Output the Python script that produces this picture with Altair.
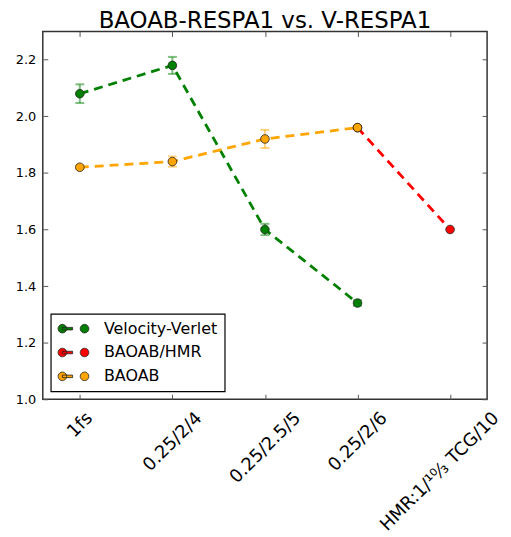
import math
import altair as alt
import pandas as pd

# ---------------- data ----------------
settings = ["1fs", "0.25/2/4", "0.25/2.5/5", "0.25/2/6", "HMR:1/¹⁰⁄₃ TCG/10"]
series_names = ["Velocity-Verlet", "BAOAB/HMR", "BAOAB"]
series_colors = ["green", "red", "orange"]

vv_x = settings[:4]
vv_y = [2.08, 2.18, 1.60, 1.34]
vv_err = [0.033, 0.03, 0.02, 0.01]

hmr_x = settings[3:5]
hmr_y = [1.96, 1.60]
hmr_err = [0.0, 0.0]

baoab_x = settings[:4]
baoab_y = [1.82, 1.84, 1.92, 1.96]
baoab_err = [0.006, 0.018, 0.032, 0.006]

y_ticks = [1.0, 1.2, 1.4, 1.6, 1.8, 2.0, 2.2]

rows = []
for name, xs, ys, es in [
    ("Velocity-Verlet", vv_x, vv_y, vv_err),
    ("BAOAB/HMR", hmr_x, hmr_y, hmr_err),
    ("BAOAB", baoab_x, baoab_y, baoab_err),
]:
    for s, v, e in zip(xs, ys, es):
        rows.append({"series": name, "setting": s, "idx": settings.index(s),
                     "value": v, "lo": v - e, "hi": v + e, "err": e})
df = pd.DataFrame(rows)
df_err = df[df["err"] > 0]

# ---------------- style ----------------
FONT = "DejaVu Sans"
# horizontal shift of each rotated tick label so that it is centred on its tick
label_shift = [9.6, 26.6, 32.7, 26.6, 46]


def poly_circle(cx, r, n=20):
    pts = []
    for i in range(n):
        a = 2 * math.pi * i / n
        pts.append(f"{cx + r * math.cos(a):.3f},{r * math.sin(a):.3f}")
    return "M" + " L".join(pts) + " Z"


legend_path = " ".join([
    poly_circle(-0.41, 0.54),
    poly_circle(2.375, 0.54),
    "M-0.41,-0.16 L0.875,-0.16 L0.875,0.16 L-0.41,0.16 Z",
])

x_scale = alt.Scale(domain=settings, type="point", padding=0.4)
y_scale = alt.Scale(domain=[1.0, 2.3], nice=False, zero=False)
# same colour mapping on three channels; the domains are listed in different
# orders so that Vega-Lite does not fold the hidden legends into the shown one
col_scale = alt.Scale(domain=series_names, range=series_colors)
stroke_scale = alt.Scale(domain=series_names[::-1], range=series_colors[::-1])
fill_order = [1, 0, 2]
fill_scale = alt.Scale(domain=[series_names[i] for i in fill_order],
                       range=[series_colors[i] for i in fill_order])

x_none = alt.X("setting:N", scale=x_scale, sort=settings, axis=None)
y_none = alt.Y("value:Q", scale=y_scale, axis=None)

rule = alt.Chart(df_err).mark_rule(strokeWidth=2, opacity=0.5).encode(
    x=x_none,
    y=alt.Y("lo:Q", scale=y_scale, axis=None),
    y2="hi:Q",
    stroke=alt.Stroke("series:N", scale=stroke_scale, legend=None),
)
cap_lo = alt.Chart(df_err).mark_tick(thickness=2, size=9, opacity=0.5).encode(
    x=x_none,
    y=alt.Y("lo:Q", scale=y_scale, axis=None),
    fill=alt.Fill("series:N", scale=fill_scale, legend=None),
)
cap_hi = alt.Chart(df_err).mark_tick(thickness=2, size=9, opacity=0.5).encode(
    x=x_none,
    y=alt.Y("hi:Q", scale=y_scale, axis=None),
    fill=alt.Fill("series:N", scale=fill_scale, legend=None),
)

line = alt.Chart(df).mark_line(strokeDash=[9, 6], strokeWidth=2.8).encode(
    x=x_none,
    y=y_none,
    stroke=alt.Stroke("series:N", scale=stroke_scale, legend=None),
    order=alt.Order("idx:Q"),
)

points = alt.Chart(df).mark_point(
    filled=True, size=75, stroke="#222", strokeWidth=0.8, opacity=1
).encode(
    x=x_none,
    y=alt.Y("value:Q", scale=y_scale, axis=alt.Axis(
        orient="left", title=None, values=y_ticks, format=".1f",
        labelFontSize=13, labelFont=FONT, labelColor="black",
        labelPadding=7, tickSize=5, offset=-5, domain=False,
        tickColor="#555", grid=False)),
    color=alt.Color("series:N", scale=col_scale, legend=alt.Legend(
        title=None, orient="bottom-left", offset=8,
        symbolType=legend_path, symbolSize=256,
        symbolStrokeColor="#222", symbolStrokeWidth=0.8,
        labelFontSize=16, labelFont=FONT, labelColor="black",
        labelOffset=30, rowPadding=7, padding=6.5,
        strokeColor="black", fillColor="white")),
)

# one bottom axis per category so each rotated label gets its own shift
label_layers = []
for s, sh in zip(settings, label_shift):
    label_layers.append(alt.Chart(df).mark_point(opacity=0).encode(
        x=alt.X("setting:N", scale=x_scale, sort=settings, axis=alt.Axis(
            orient="bottom", title=None, values=[s], labelAngle=-45,
            labelAlign="right", labelBaseline="middle", labelPadding=16,
            labelFontSize=18, labelFont=FONT, labelColor="black",
            labelLimit=400, labelOffset=sh, tickSize=5, offset=-5,
            domain=False, tickColor="#555", grid=False)),
        y=y_none,
    ))

ghost = alt.Chart(df).mark_point(opacity=0).encode(
    x=alt.X("setting:N", scale=x_scale, sort=settings, axis=alt.Axis(
        orient="top", title=None, labels=False, tickSize=5, offset=-5,
        domain=False, tickColor="#555", grid=False)),
    y=alt.Y("value:Q", scale=y_scale, axis=alt.Axis(
        orient="right", title=None, labels=False, values=y_ticks,
        tickSize=5, offset=-5, domain=False, tickColor="#555", grid=False)),
)

chart = alt.layer(rule, cap_lo, cap_hi, line, points, ghost, *label_layers).resolve_axis(
    x="independent", y="independent"
).properties(
    width=447, height=370,
    title=alt.TitleParams("BAOAB-RESPA1 vs. V-RESPA1", fontSize=23, font=FONT,
                          fontWeight="normal", color="black", offset=-2,
                          anchor="middle"),
    padding={"left": 7, "top": 0, "right": 0, "bottom": 0},
).configure(
    background="white",
    view=alt.ViewConfig(stroke="#333", strokeWidth=1.5),
    legend=alt.LegendConfig(strokeWidth=1.2),
)

chart.save("out.html", embed_options={"renderer": "svg", "actions": False})
